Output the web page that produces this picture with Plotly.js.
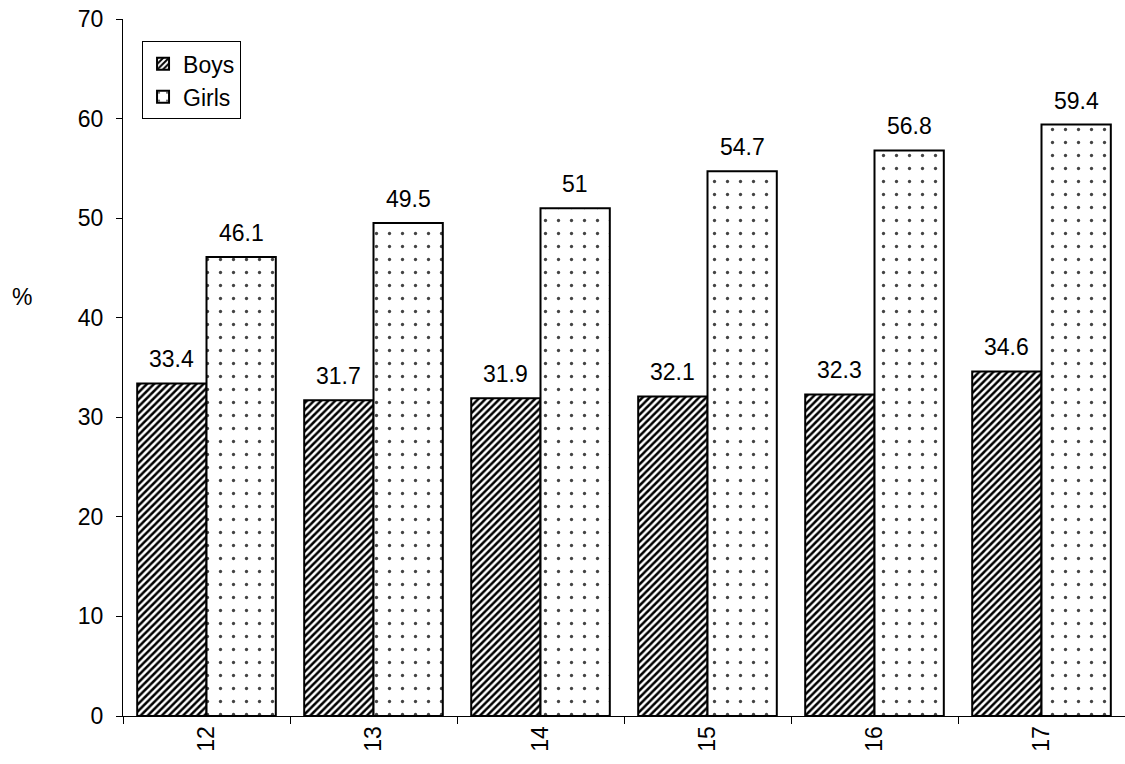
<!DOCTYPE html>
<html>
<head>
<meta charset="utf-8">
<script src="https://cdn.plot.ly/plotly-3.0.1.min.js"></script>
<style>html,body{margin:0;padding:0;background:#fff;}#chart{width:1125px;height:764px;}</style>
</head>
<body>
<div id="chart"></div>
<script>
const ages = ['12', '13', '14', '15', '16', '17'];
const boys = [33.4, 31.7, 31.9, 32.1, 32.3, 34.6];
const girls = [46.1, 49.5, 51, 54.7, 56.8, 59.4];
const yTicks = [0, 10, 20, 30, 40, 50, 60, 70];

const font = {family: 'Liberation Sans, Arial, sans-serif', size: 23, color: '#000'};
const BARGAP = 0.17;
const half = (1 - BARGAP) / 4;

const traces = [
  {
    type: 'bar', name: 'Boys', x: ages, y: boys, legendgroup: 'b',
    marker: {
      color: '#fff',
      line: {color: '#000', width: 2},
      pattern: {shape: '/', fgcolor: '#000', bgcolor: '#fff', size: 5, solidity: 0.5}
    }
  },
  {
    type: 'bar', name: 'Girls', x: ages, y: girls, legendgroup: 'g',
    marker: {
      color: '#fff',
      line: {color: '#000', width: 2},
      pattern: {shape: '.', fgcolor: '#444', bgcolor: '#fff', size: 13, solidity: 0.05}
    }
  }
];

const labelAnns = [];
ages.forEach((a, i) => {
  labelAnns.push({x: i - half, y: boys[i], xref: 'x', yref: 'y', text: String(boys[i]),
    showarrow: false, yanchor: 'bottom', xanchor: 'center', yshift: 9, font: font});
  labelAnns.push({x: i + half, y: girls[i], xref: 'x', yref: 'y', text: String(girls[i]),
    showarrow: false, yanchor: 'bottom', xanchor: 'center', yshift: 9, font: font});
});

const layout = {
  width: 1125, height: 764,
  margin: {l: 123, r: 0, t: 19, b: 48},
  paper_bgcolor: '#fff', plot_bgcolor: '#fff',
  font: font,
  barmode: 'group', bargap: BARGAP, bargroupgap: 0,
  showlegend: true,
  legend: {
    x: 0.019, y: 0.968, xanchor: 'left', yanchor: 'top',
    bgcolor: '#fff', bordercolor: '#000', borderwidth: 1,
    font: font, itemwidth: 30, traceorder: 'grouped', tracegroupgap: 0,
    entrywidth: 100
  },
  xaxis: {
    type: 'category', tickangle: -90,
    showline: true, linecolor: '#000', linewidth: 1,
    ticks: 'outside', tickson: 'boundaries', ticklen: 7, tickcolor: '#000',
    showgrid: false, tickfont: font
  },
  yaxis: {
    range: [0, 70], tickvals: yTicks, ticktext: yTicks.map(String),
    showline: true, linecolor: '#000', linewidth: 1,
    ticks: 'outside', ticklen: 6, tickcolor: '#000', ticklabelstandoff: 8,
    showgrid: false, zeroline: false, tickfont: font
  },
  annotations: labelAnns.concat([{
    text: '%', xref: 'paper', yref: 'paper', x: -0.1008, y: 0.601,
    showarrow: false, font: font, xanchor: 'center', yanchor: 'middle'
  }])
};

Plotly.newPlot('chart', traces, layout, {displayModeBar: false, staticPlot: true});
</script>
</body>
</html>
